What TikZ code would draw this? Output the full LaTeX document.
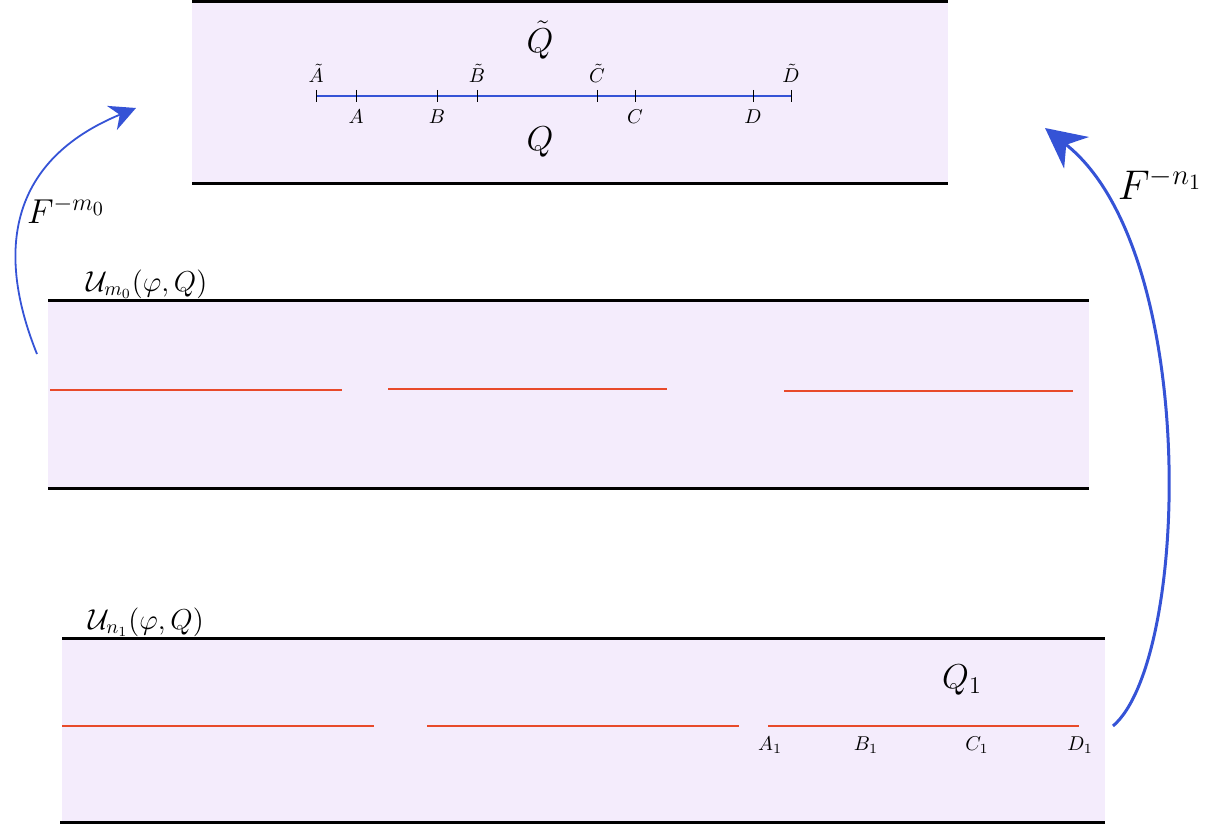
\documentclass[tikz,border=0pt]{standalone}
\usetikzlibrary{arrows.meta}
\definecolor{lav}{HTML}{F4ECFC}
\definecolor{redl}{HTML}{E84A2A}
\definecolor{bluel}{HTML}{3553D6}
\begin{document}
\begin{tikzpicture}[x=0.5pt,y=-0.5pt,
  edge/.style={line width=1.5pt,black},
  redseg/.style={line width=0.7pt,redl},
  tick/.style={line width=0.5pt,black},
  small/.style={font=\normalsize,inner sep=1pt},
  big/.style={font=\LARGE,inner sep=1pt},
  mapar/.style={bluel,-{Stealth[length=#1,width=#1]}}
]
\useasboundingbox (0,0) rectangle (1225,829);
% top box
\fill[lav] (192,2) rectangle (948,183);
\draw[edge] (192,2) -- (948,2);
\draw[edge] (192,183) -- (948,183);
\node[big] (Qt) at (540,40) {$\tilde Q$};
\node[big] (Q) at (540,142) {$Q$};
\draw[bluel,line width=1pt] (316,96) coordinate (At) -- (791,96) coordinate (Dt);
\foreach \x/\n/\lab/\pos in {316/At/{\tilde A}/above,477/Bt/{\tilde B}/above,597/Ct/{\tilde C}/above,791/Dt/{\tilde D}/above,356/A/A/below,437/B/B/below,635/C/C/below,753/D/D/below}{
  \draw[tick] (\x,90) -- (\x,102);
  \node[small,\pos=5.5pt] (l\n) at (\x,96) {$\lab$};
}
% middle box
\fill[lav] (48,300) rectangle (1089,488);
\draw[edge] (48,300) -- (1089,300);
\draw[edge] (48,488) -- (1089,488);
\node[small,anchor=base west] (U0) at (84,291) {\Large$\mathcal{U}_{m_0}(\varphi,Q)$};
\draw[redseg] (50,390) -- (342,390);
\draw[redseg] (388,389) -- (667,389);
\draw[redseg] (784,391) -- (1073,391);
% bottom box
\fill[lav] (62,638) rectangle (1105,822);
\draw[edge] (62,638) -- (1105,638);
\draw[edge] (60,822) -- (1105,822);
\node[small,anchor=base west] (U1) at (86,629) {\Large$\mathcal{U}_{n_1}(\varphi,Q)$};
\draw[redseg] (62,726) -- (374,726);
\draw[redseg] (427,726) -- (739,726);
\draw[redseg] (768,726) coordinate (A1) -- (1079,726) coordinate (D1);
\node[small] (lA1) at (770,745) {$A_1$};
\node[small] (lB1) at (866,745) {$B_1$};
\node[small] (lC1) at (977,745) {$C_1$};
\node[small] (lD1) at (1080,745) {$D_1$};
\node[big] (Q1) at (962,680) {$Q_1$};
% arrows
\coordinate (s1) at (1113,726);
\coordinate (e1) at (1045,128);
\coordinate (s0) at (37,354);
\coordinate (e0) at (136,108);
\draw[mapar=13pt,line width=0.9pt] (s0) .. controls (-5,250) and (10,160) .. (e0);
\node[big,anchor=center] (F0) at (66,210) {$F^{-m_0}$};
\draw[mapar=20pt,line width=1.5pt] (s1) .. controls (1190,660) and (1200,250) .. (e1);
\node[big,font=\fontsize{22}{24}\selectfont] (F1) at (1160,184) {$F^{-n_1}$};
\end{tikzpicture}
\end{document}
